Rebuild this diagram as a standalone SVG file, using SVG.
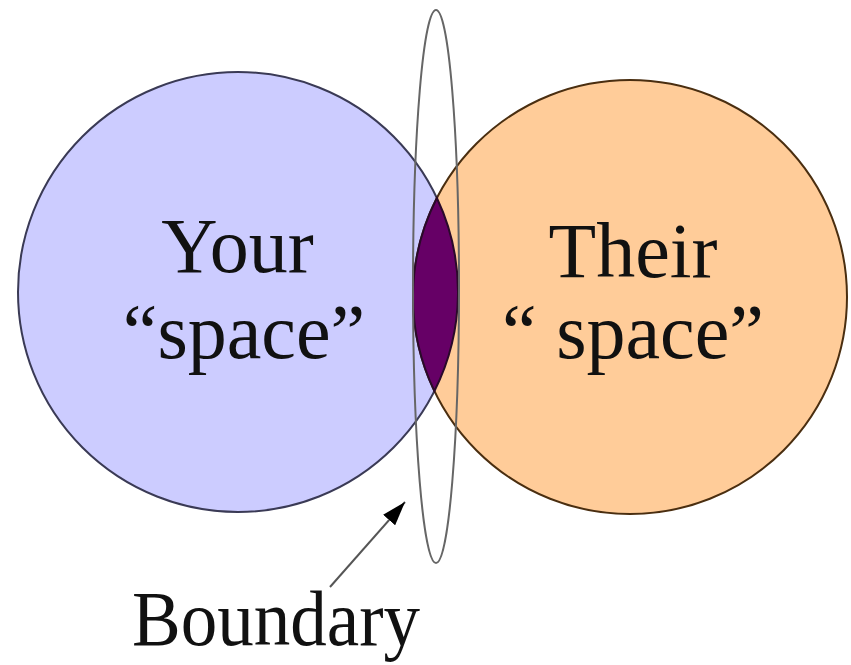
<svg xmlns="http://www.w3.org/2000/svg" width="851" height="665" viewBox="0 0 851 665">
  <defs>
    <style>
      .lbl { font-family: "Liberation Serif", "Times New Roman", serif; font-size: 78px; fill: #111; text-anchor: middle; }
    </style>
    <marker id="arrow" markerWidth="24" markerHeight="16" refX="24" refY="8" orient="auto" markerUnits="userSpaceOnUse" viewBox="0 0 24 16">
      <path d="M0,0 L24,8 L0,16 Z" fill="#000"/>
    </marker>
  </defs>
  <rect width="851" height="665" fill="#fff"/>
  <g id="your-space">
    <circle cx="238" cy="292" r="220" fill="#ccccff" stroke="#3a3a55" stroke-width="2"/>
  </g>
  <g id="their-space">
    <circle cx="630" cy="297" r="217" fill="#ffcc99" stroke="#4a2e10" stroke-width="2"/>
  </g>
  <g id="overlap">
    <path d="M436.9,198 A220,220 0 0 1 434.44,391.04 A217,217 0 0 1 436.9,198 Z" fill="#660066" stroke="#2a0a2a" stroke-width="2"/>
  </g>
  <g id="boundary">
    <ellipse cx="436" cy="286.5" rx="23" ry="276.5" fill="none" stroke="#666" stroke-width="2"/>
  </g>
  <g id="labels">
    <text class="lbl" x="237.5" y="272">Your</text>
    <text class="lbl" x="244" y="358">“space”</text>
    <text class="lbl" x="633" y="277">Their</text>
    <text class="lbl" x="633" y="358">“ space”</text>
    <text class="lbl" x="276" y="645" textLength="288" lengthAdjust="spacingAndGlyphs">Boundary</text>
  </g>
  <g id="connectors">
    <line x1="330" y1="587" x2="405" y2="502" stroke="#555" stroke-width="2" marker-end="url(#arrow)"/>
  </g>
</svg>
